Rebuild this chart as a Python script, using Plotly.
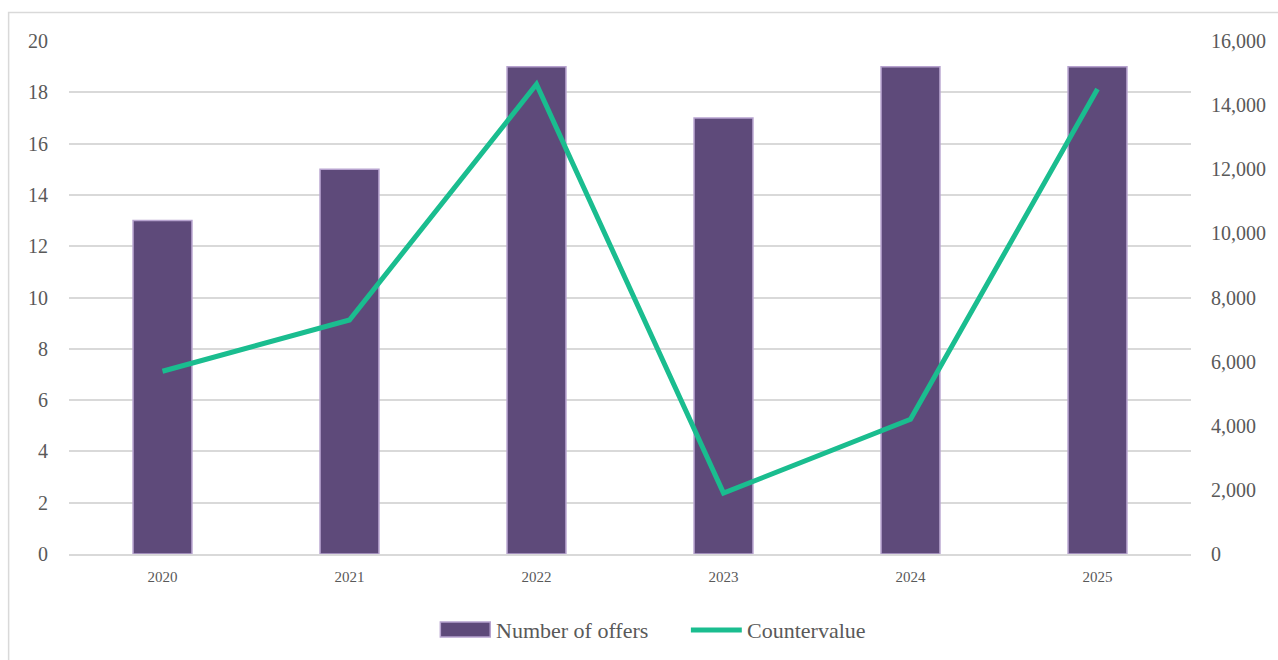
import plotly.graph_objects as go

years = ["2020", "2021", "2022", "2023", "2024", "2025"]
offers = [13, 15, 19, 17, 19, 19]
countervalue = [5700, 7300, 14650, 1900, 4200, 14500]

left_ticks = list(range(0, 21, 2))
right_ticks = list(range(0, 16001, 2000))

font_family = "Liberation Serif, DejaVu Serif, serif"
text_color = "#595959"
grid_color = "#D9D9D9"
bar_color = "#5E4A7A"
bar_edge = "#B7A3CF"
line_color = "#1ABD8F"

# plot area in pixels: left 69, right 1193, top 41, bottom 554
L, R, T, B = 69, 1193, 41, 554
W, H = R - L, B - T


def px(x):
    return (x - L) / W


def py(y):
    return (B - y) / H


fig = go.Figure()

fig.add_trace(go.Bar(
    x=years, y=offers, name="Number of offers",
    marker=dict(color=bar_color, line=dict(color=bar_edge, width=1.5)),
    yaxis="y", showlegend=False,
))

fig.add_trace(go.Scatter(
    x=years, y=countervalue, name="Countervalue",
    mode="lines", line=dict(color=line_color, width=5),
    yaxis="y2", showlegend=False,
))

# legend drawn below the plot: wide swatch for the bars, a stroke for the line
legend_y = py(630)
shapes = [
    dict(type="rect", xref="paper", yref="paper",
         x0=px(8.5), x1=1.2, y0=-0.4, y1=py(12.5),
         line=dict(color=grid_color, width=1.5), fillcolor="rgba(0,0,0,0)",
         layer="below"),
    dict(type="rect", xref="paper", yref="paper",
         x0=px(441), x1=px(491), y0=py(637), y1=py(622),
         line=dict(color=bar_edge, width=1.5), fillcolor=bar_color),
    dict(type="line", xref="paper", yref="paper",
         x0=px(692), x1=px(743), y0=legend_y, y1=legend_y,
         line=dict(color=line_color, width=5)),
]
annotations = [
    dict(text="Number of offers", xref="paper", yref="paper",
         x=px(495), y=legend_y, xanchor="left", yanchor="middle",
         showarrow=False, font=dict(size=22, color=text_color)),
    dict(text="Countervalue", xref="paper", yref="paper",
         x=px(746), y=legend_y, xanchor="left", yanchor="middle",
         showarrow=False, font=dict(size=22, color=text_color)),
]

fig.update_layout(
    width=1278, height=660,
    margin=dict(l=L, r=1278 - R, t=T, b=660 - B),
    paper_bgcolor="white", plot_bgcolor="white",
    font=dict(family=font_family, color=text_color),
    bargap=0.685,
    showlegend=False,
    xaxis=dict(
        type="category", showgrid=False, showline=True, linecolor=grid_color,
        linewidth=1.5, ticks="", tickfont=dict(size=15, color=text_color),
        ticklabelstandoff=8,
    ),
    yaxis=dict(
        range=[0, 20], tickvals=left_ticks, showgrid=True, gridcolor=grid_color,
        gridwidth=1.5, zeroline=False, showline=False,
        tickfont=dict(size=20, color=text_color), ticklabelstandoff=20,
    ),
    yaxis2=dict(
        range=[0, 16000], tickvals=right_ticks, overlaying="y", side="right",
        showgrid=False, zeroline=False, showline=False, tickformat=",",
        tickfont=dict(size=20, color=text_color), ticklabelstandoff=19,
    ),
    shapes=shapes,
    annotations=annotations,
)

fig.write_html("out.html")
